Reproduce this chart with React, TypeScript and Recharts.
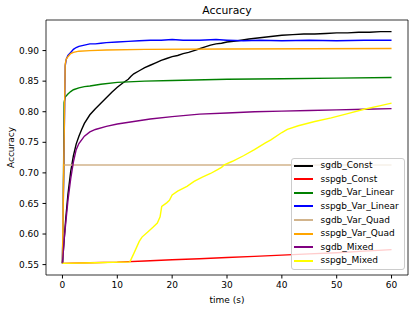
import React from 'react';
import { LineChart, Line, XAxis, YAxis, Legend, ReferenceArea } from 'recharts';

type Pt = [number, number];

const xTicks = [0, 10, 20, 30, 40, 50, 60];
const yTicks = [0.55, 0.6, 0.65, 0.7, 0.75, 0.8, 0.85, 0.9];

const sgdbConst: Pt[] = [
  [0, 0.552], [0.3, 0.59], [0.6, 0.625], [1, 0.665], [1.5, 0.702], [2, 0.728], [2.5, 0.747],
  [3, 0.76], [3.5, 0.771], [4, 0.781], [5, 0.795], [6, 0.805], [7, 0.814], [8, 0.823],
  [9, 0.832], [10, 0.84], [11, 0.847], [12, 0.853], [12.5, 0.858], [13, 0.862], [14, 0.867],
  [15, 0.872], [16, 0.876], [17, 0.88], [18, 0.884], [19, 0.887], [20, 0.89], [21, 0.892],
  [22, 0.895], [23, 0.897], [24, 0.9], [25, 0.903], [26, 0.906], [27, 0.909], [28, 0.911],
  [29, 0.912], [30, 0.914], [32, 0.916], [34, 0.919], [36, 0.921], [38, 0.923], [40, 0.925],
  [42, 0.926], [44, 0.927], [46, 0.927], [48, 0.928], [50, 0.929], [52, 0.929], [54, 0.93],
  [56, 0.93], [58, 0.931], [60, 0.931],
];

const sspgbConst: Pt[] = [
  [0, 0.552], [5, 0.553], [10, 0.554], [15, 0.556], [20, 0.558], [25, 0.5595], [30, 0.5615],
  [35, 0.5635], [40, 0.5655], [45, 0.5675], [50, 0.5695], [55, 0.572], [60, 0.5745],
];

const sgdbVarLinear: Pt[] = [
  [0, 0.552], [0.2, 0.7], [0.3, 0.815], [0.5, 0.824], [1, 0.829], [1.5, 0.833], [2, 0.836],
  [3, 0.839], [4, 0.841], [5, 0.842], [7, 0.845], [10, 0.848], [15, 0.85], [20, 0.851],
  [30, 0.853], [40, 0.854], [50, 0.855], [60, 0.856],
];

const sspgbVarLinear: Pt[] = [
  [0, 0.552], [0.5, 0.875], [0.7, 0.886], [1, 0.892], [1.5, 0.897], [2, 0.902], [2.5, 0.905],
  [3, 0.907], [4, 0.909], [5, 0.911], [6, 0.911], [7, 0.912], [8, 0.913], [10, 0.914],
  [12, 0.915], [14, 0.916], [16, 0.917], [18, 0.917], [20, 0.918], [22, 0.917], [25, 0.917],
  [28, 0.918], [30, 0.917], [33, 0.916], [36, 0.917], [40, 0.916], [45, 0.917], [50, 0.916],
  [55, 0.917], [60, 0.917],
];

const sgdbVarQuad: Pt[] = [
  [0, 0.552], [0.2, 0.713], [60, 0.713],
];

const sspgbVarQuad: Pt[] = [
  [0, 0.552], [0.3, 0.75], [0.5, 0.878], [0.7, 0.886], [1, 0.89], [1.5, 0.895], [2, 0.897],
  [3, 0.899], [5, 0.9], [8, 0.901], [15, 0.902], [30, 0.9025], [45, 0.903], [60, 0.9035],
];

const sgdbMixed: Pt[] = [
  [0, 0.552], [0.3, 0.59], [0.6, 0.618], [1, 0.655], [1.5, 0.69], [2, 0.718], [2.5, 0.738],
  [3, 0.748], [4, 0.76], [5, 0.767], [6, 0.771], [8, 0.776], [10, 0.78], [13, 0.784],
  [16, 0.788], [20, 0.792], [25, 0.796], [30, 0.798], [35, 0.8], [40, 0.801], [45, 0.802],
  [50, 0.803], [55, 0.804], [60, 0.805],
];

const sspgbMixed: Pt[] = [
  [0, 0.552], [6, 0.553], [12.3, 0.5545], [13, 0.568], [14, 0.588], [14.5, 0.595],
  [15.5, 0.603], [16.5, 0.611], [17.3, 0.618], [17.8, 0.628], [18.1, 0.645], [19, 0.651],
  [19.5, 0.655], [20, 0.664], [21, 0.67], [22.7, 0.678], [24, 0.686], [25.5, 0.693],
  [27, 0.699], [28.2, 0.705], [29, 0.709], [29.5, 0.713], [31, 0.719], [33, 0.728],
  [35, 0.738], [37, 0.749], [38, 0.754], [40, 0.766], [41, 0.771], [43, 0.777], [46, 0.784],
  [49, 0.79], [52, 0.797], [55, 0.804], [58, 0.81], [60, 0.814],
];

const seriesNames = [
  'sgdb_Const', 'sspgb_Const', 'sgdb_Var_Linear', 'sspgb_Var_Linear',
  'sgdb_Var_Quad', 'sspgb_Var_Quad', 'sgdb_Mixed', 'sspgb_Mixed',
];
const seriesColors = [
  '#000000', '#ff0000', '#008000', '#0000ff', '#d2b48c', '#ffa500', '#800080', '#ffff00',
];
const seriesData = [
  sgdbConst, sspgbConst, sgdbVarLinear, sspgbVarLinear,
  sgdbVarQuad, sspgbVarQuad, sgdbMixed, sspgbMixed,
];

const FONT = '"DejaVu Sans", sans-serif';
const X_DOMAIN: [number, number] = [-3, 63];
const Y_DOMAIN: [number, number] = [0.533, 0.95];

const renderLegend = () => (
  <div
    style={{
      boxSizing: 'border-box',
      width: 114,
      height: 112,
      border: '1px solid #cccccc',
      borderRadius: 3,
      background: 'rgba(255,255,255,0.8)',
      fontFamily: FONT,
      fontSize: 9,
      color: '#000',
    }}
  >
    {seriesNames.map((n, i) => (
      <div key={n} style={{ display: 'flex', alignItems: 'center', height: 13.57 }}>
        <div style={{ width: 19, height: 0, marginLeft: 2, borderTop: `2px solid ${seriesColors[i]}` }} />
        <span style={{ marginLeft: 7.5, whiteSpace: 'nowrap', lineHeight: '13px' }}>{n}</span>
      </div>
    ))}
  </div>
);

export default function App() {
  return (
    <div style={{ position: 'absolute', left: 0, top: 0, width: 416, height: 310, background: '#fff' }}>
      <div
        style={{
          position: 'absolute', left: 46, top: 6, width: 362, textAlign: 'center',
          fontFamily: FONT, fontSize: 10.8, lineHeight: '10.8px', color: '#000', zIndex: 2,
        }}
      >
        Accuracy
      </div>
      <LineChart width={416} height={310} margin={{ top: 20, right: 8, left: 0, bottom: 0 }}>
        <XAxis
          dataKey="t"
          type="number"
          domain={X_DOMAIN}
          ticks={xTicks}
          interval={0}
          allowDataOverflow
          height={35}
          tickSize={3.5}
          tickMargin={3.5}
          stroke="#000"
          axisLine={false}
          tick={{ fill: '#000', fontSize: 9, fontFamily: FONT }}
          label={{
            content: (p: any) => {
              const vb = p.viewBox || {};
              return (
                <text x={vb.x + vb.width / 2} y={vb.y + 25} textAnchor="middle" dominantBaseline="central"
                  fontSize={9} fontFamily={FONT} fill="#000">time (s)</text>
              );
            },
          }}
        />
        <YAxis
          type="number"
          domain={Y_DOMAIN}
          ticks={yTicks}
          interval={0}
          allowDataOverflow
          width={46}
          tickSize={3.5}
          tickMargin={3.5}
          stroke="#000"
          axisLine={false}
          tickFormatter={(v: number) => v.toFixed(2)}
          tick={{ fill: '#000', fontSize: 9, fontFamily: FONT }}
          label={{
            content: (p: any) => {
              const vb = p.viewBox || {};
              const cx = vb.x + 11;
              const cy = vb.y + vb.height / 2;
              return (
                <text x={cx} y={cy} transform={`rotate(-90 ${cx} ${cy})`} textAnchor="middle"
                  dominantBaseline="central" fontSize={9} fontFamily={FONT} fill="#000">Accuracy</text>
              );
            },
          }}
        />
        {seriesData.map((d, i) => (
          <Line
            key={seriesNames[i]}
            name={seriesNames[i]}
            data={d.map(([t, v]) => ({ t, v }))}
            dataKey="v"
            type="linear"
            stroke={seriesColors[i]}
            strokeWidth={1.4}
            dot={false}
            activeDot={false}
            isAnimationActive={false}
          />
        ))}
        <ReferenceArea
          x1={X_DOMAIN[0]}
          x2={X_DOMAIN[1]}
          y1={Y_DOMAIN[0]}
          y2={Y_DOMAIN[1]}
          fill="none"
          fillOpacity={0}
          stroke="#000"
          strokeWidth={0.8}
          ifOverflow="visible"
        />
        <Legend
          layout="vertical"
          align="center"
          verticalAlign="middle"
          content={renderLegend}
          wrapperStyle={{ position: 'absolute', left: 291, top: 158, width: 114, height: 112 }}
        />
      </LineChart>
    </div>
  );
}
